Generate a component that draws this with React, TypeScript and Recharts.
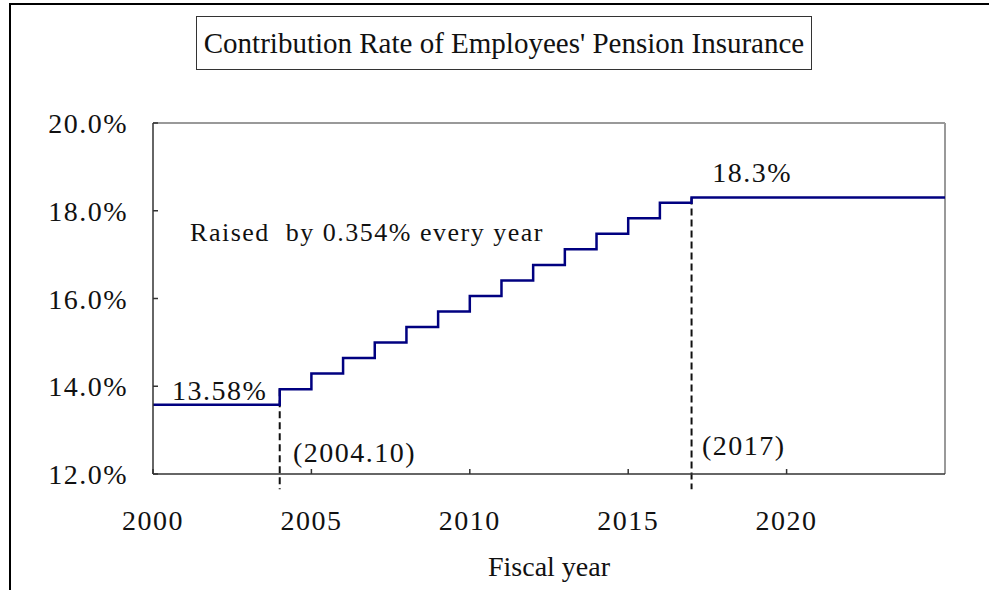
import React from 'react';
import { LineChart, Line, XAxis, YAxis, ReferenceLine, ReferenceDot } from 'recharts';

// fiscal year at which each rate starts, and the rate (%)
const years = [2000, 2004, 2005, 2006, 2007, 2008, 2009, 2010, 2011, 2012, 2013, 2014, 2015, 2016, 2017, 2025];
const rates = [13.58, 13.934, 14.288, 14.642, 14.996, 15.35, 15.704, 16.058, 16.412, 16.766, 17.12, 17.474, 17.828, 18.182, 18.3, 18.3];

const xTicks = [2000, 2005, 2010, 2015, 2020];
const yTicks = [12, 14, 16, 18, 20];

const notes = [
  { x: 2000.6, y: 13.69, text: '13.58%' },
  { x: 2004.42, y: 12.274, text: '(2004.10)' },
  { x: 2017.33, y: 12.434, text: '(2017)' },
  { x: 2017.65, y: 18.65, text: '18.3%' },
  { x: 2001.17, y: 17.3, text: 'Raised\u00a0\u00a0by 0.354% every year', small: true },
];

const serif = '"Liberation Serif", "Times New Roman", serif';
const numStyle = { fontFamily: serif, fontSize: 28, letterSpacing: 1.5 };

const data = years.map((year, i) => ({ year, rate: rates[i] }));

const Y_GAP = 25;
const X_GAP = 38;

function YTick(props: any) {
  const { x, y, payload } = props;
  return (
    <g>
      <line x1={x + Y_GAP} x2={x + Y_GAP + 5} y1={y} y2={y} stroke="#333" strokeWidth={1.5} />
      <text x={x} y={y} dy="0.36em" textAnchor="end" style={numStyle} fill="#111">
        {payload.value.toFixed(1) + '%'}
      </text>
    </g>
  );
}

function XTick(props: any) {
  const { x, y, payload } = props;
  return (
    <g>
      <line x1={x} x2={x} y1={y - X_GAP} y2={y - X_GAP - 5} stroke="#333" strokeWidth={1.5} />
      <text x={x} y={y + 18} textAnchor="middle" style={numStyle} fill="#111">
        {payload.value}
      </text>
    </g>
  );
}

function note(text: string, small?: boolean) {
  return (props: any) => {
    const vb = props.viewBox || {};
    return (
      <text x={vb.x} y={vb.y} textAnchor="start" style={{ ...numStyle, fontSize: small ? 26 : 28 }} fill="#111">
        {text}
      </text>
    );
  };
}

export default function App() {
  return (
    <div style={{ position: 'absolute', left: 0, top: 0, width: 989, height: 590, background: '#fff' }}>
      <div
        style={{
          position: 'absolute', left: 9, top: 3, right: 0, bottom: 0,
          borderLeft: '2px solid #000', borderTop: '2px solid #000',
        }}
      />
      <div
        style={{
          position: 'absolute', left: 196, top: 16, width: 614, height: 52,
          border: '1px solid #333', fontFamily: serif, fontSize: 29,
          lineHeight: '52px', textAlign: 'center', color: '#111', whiteSpace: 'nowrap',
        }}
      >
        Contribution Rate of Employees' Pension Insurance
      </div>
      <div style={{ position: 'absolute', left: 0, top: 0 }}>
        <LineChart width={989} height={590} data={data} margin={{ top: 123, right: 44, left: 0, bottom: 0 }}>
          <XAxis
            dataKey="year"
            type="number"
            domain={[2000, 2025]}
            ticks={xTicks}
            tickSize={0}
            tickMargin={X_GAP}
            tick={<XTick />}
            height={116}
            stroke="#333"
            strokeWidth={1.5}
            label={{ value: 'Fiscal year', position: 'insideBottom', offset: 14, fontFamily: serif, fontSize: 28, fill: '#111' }}
          />
          <YAxis
            type="number"
            domain={[12, 20]}
            ticks={yTicks}
            tickSize={0}
            tickMargin={Y_GAP}
            tick={<YTick />}
            width={153}
            stroke="#333"
            strokeWidth={1.5}
          />
          <ReferenceLine y={20} stroke="#999" strokeWidth={2} />
          <ReferenceLine x={2025} stroke="#999" strokeWidth={2} />
          <ReferenceLine
            segment={[{ x: 2004, y: 13.934 }, { x: 2004, y: 11.65 }]}
            stroke="#111"
            strokeWidth={2}
            strokeDasharray="7 4"
            ifOverflow="visible"
          />
          <ReferenceLine
            segment={[{ x: 2017, y: 18.3 }, { x: 2017, y: 11.65 }]}
            stroke="#111"
            strokeWidth={2}
            strokeDasharray="7 4"
            ifOverflow="visible"
          />
          <Line
            type="stepAfter"
            dataKey="rate"
            stroke="#000080"
            strokeWidth={2.5}
            dot={false}
            isAnimationActive={false}
          />
          {notes.map((n) => (
            <ReferenceDot key={n.text} x={n.x} y={n.y} r={0} stroke="none" fill="none" label={{ content: note(n.text, n.small) }} />
          ))}
        </LineChart>
      </div>
    </div>
  );
}
